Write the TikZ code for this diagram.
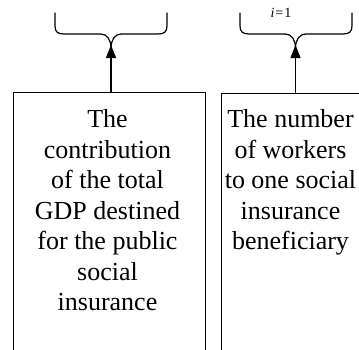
\documentclass[tikz,border=0pt]{standalone}
\usepackage{fontspec}
\setmainfont{Liberation Serif}
\usetikzlibrary{arrows.meta,calc}
\begin{document}
\begin{tikzpicture}[x=1pt,y=1pt,
  boxstyle/.style={draw,line width=1.1pt,rectangle,inner sep=0pt,anchor=north west,minimum height=330pt},
  bodytext/.style={align=center,inner sep=0pt,anchor=north,font=\fontsize{26}{30.5}\selectfont},
  bracestyle/.style={line width=1.2pt,line cap=round},
  arrowstyle/.style={line width=1.2pt,-{Triangle[width=10pt,length=13pt]}}]
\useasboundingbox (0,0) rectangle (359,-349);
\clip (0,0) rectangle (359,-349);
% boxes
\node[boxstyle,minimum width=192pt] (boxL) at (13,-92) {};
\node[boxstyle,minimum width=150pt] (boxR) at (221,-92.5) {};
% texts
\node[bodytext] (txtL) at (107.5,-109.5) {The\\contribution\\of the total\\GDP destined\\for the public\\social\\insurance};
\node[bodytext] (txtR) at (290.5,-109.5) {The number\\of workers\\to one social\\insurance\\beneficiary};
% braces
\coordinate (tipL) at (111,-48);
\coordinate (tipR) at (295.5,-48);
\draw[bracestyle] (55,-13) -- (55,-26) .. controls (55,-32) and (58,-34) .. (64,-34) -- (101,-34) .. controls (107,-34) and (111,-40) .. (tipL);
\draw[bracestyle] (167,-13) -- (167,-26) .. controls (167,-32) and (164,-34) .. (158,-34) -- (121,-34) .. controls (115,-34) and (111,-40) .. (tipL);
\draw[bracestyle] (240,-13) -- (240,-26) .. controls (240,-32) and (243,-34) .. (249,-34) -- (285.5,-34) .. controls (291.5,-34) and (295.5,-40) .. (tipR);
\draw[bracestyle] (352,-13) -- (352,-26) .. controls (352,-32) and (349,-34) .. (343,-34) -- (305.5,-34) .. controls (299.5,-34) and (295.5,-40) .. (tipR);
% i=1
\node[inner sep=0pt,anchor=base,font=\fontsize{14}{16}\selectfont] (lim) at (281,-17) {\textit{i}\kern1pt=\kern1pt1};
% arrows
\draw[arrowstyle] (tipL |- boxL.north) -- ($(tipL)+(0,3)$);
\draw[arrowstyle] (tipR |- boxR.north) -- ($(tipR)+(0,3)$);
\end{tikzpicture}
\end{document}
